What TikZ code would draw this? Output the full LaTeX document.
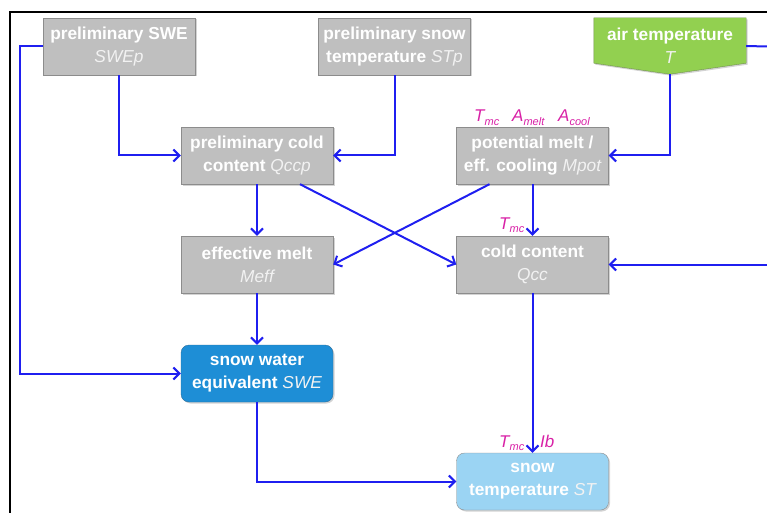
\documentclass[tikz,border=0pt]{standalone}
\usepackage{fontspec}
\setmainfont{Liberation Sans}
\usepackage{xcolor}
\usetikzlibrary{arrows,arrows.meta,calc,positioning,shadows,backgrounds}
\definecolor{boxgrau}{HTML}{BFBFBF}
\definecolor{randgrau}{HTML}{8C8C8C}
\definecolor{pfeilblau}{HTML}{1F1FF0}
\definecolor{luftgruen}{HTML}{92D050}
\definecolor{luftrand}{HTML}{71924E}
\definecolor{sweblau}{HTML}{1E8ED6}
\definecolor{swerand}{HTML}{2C6F9C}
\definecolor{sthell}{HTML}{9BD4F3}
\definecolor{parammag}{HTML}{D820A6}
\definecolor{kursivgrau}{HTML}{F2F2F2}
% kursiver Variablenname in den Kaesten
\newcommand{\kursiv}[1]{{\mdseries\itshape\color{kursivgrau}#1}}
% Parameter mit Index
\newcommand{\param}[2]{#1\raisebox{-3.5pt}{\fontsize{11}{11}\selectfont #2}}
\tikzset{
  schatten/.style={drop shadow={opacity=0.35,shadow xshift=1.5pt,shadow yshift=-1.5pt}},
  kastentext/.style={minimum width=152pt,minimum height=57pt,text=white,align=center,
    inner sep=2pt,font=\bfseries\fontsize{17.3}{23}\selectfont},
  kasten/.style={kastentext,draw=randgrau,fill=boxgrau,schatten},
  rundkasten/.style={kasten,rounded corners=8pt},
  pfeil/.style={draw=pfeilblau,line width=2pt,->,>={Straight Barb[length=6pt,width=12pt]}},
  parlabel/.style={text=parammag,inner sep=0pt,anchor=base west,font=\itshape\fontsize{17}{17}\selectfont},
}
\begin{document}
\begin{tikzpicture}[x=1pt,y=-1pt]
\useasboundingbox (0,0) rectangle (767,513);
%Rahmen (nur oben und links sichtbar)
\draw[black,line width=1.2pt] (10,513) -- (10,12) -- (767,12);
%Eingaenge
\node[kasten] (swep) at (119,46.5) {preliminary SWE\\\kursiv{SWEp}};
\node[kasten] (stp) at (394.5,46.5) {preliminary snow\\temperature \kursiv{STp}};
\node[kastentext,minimum height=56pt] (air) at (670,46) {air temperature\\\kursiv{T}};
\begin{scope}[on background layer]
\draw[draw=luftrand,fill=luftgruen,schatten] (air.north west) -- (air.north east) -- ($(air.south east)+(0,-11)$)
  -- (air.south) -- ($(air.south west)+(0,-11)$) -- cycle;
\end{scope}
%Zwischengroessen
\node[kasten] (qccp) at (257,155.5) {preliminary cold\\content \kursiv{Qccp}};
\node[kasten] (mpot) at (532.5,155.5) {potential melt /\\eff. cooling \kursiv{Mpot}};
\node[kasten] (meff) at (257,264.5) {effective melt\\\kursiv{Meff}};
\node[kasten] (qcc) at (532.5,264.5) {cold content\\\kursiv{Qcc}};
%Zustandsgroessen
\node[rundkasten,fill=sweblau,draw=swerand] (swe) at (257,373.5) {snow water\\equivalent \kursiv{SWE}};
\node[rundkasten,fill=sthell] (st) at (532.5,481.5) {snow\\temperature \kursiv{ST}};
%Parameter
\node[parlabel] (tmcA) at (474,122) {\param{T}{mc}};
\node[parlabel] (amelt) at (512,122) {\param{A}{melt}};
\node[parlabel] (acool) at (558,122) {\param{A}{cool}};
\node[parlabel] (tmcB) at (499,229) {\param{T}{mc}};
\node[parlabel] (tmcC) at (499,447) {\param{T}{mc}};
\node[parlabel] (ib) at (540,447) {Ib};
%Verbindungen
\coordinate (linksEck) at (20,46.5);
\coordinate (rechtsOben) at (767,46.5);
\coordinate (rechtsQcc) at (767,264.5);
\draw[pfeil] (swep.south) |- (qccp.west);
\draw[pfeil] (stp.south) |- (qccp.east);
\draw[pfeil] (air.south) |- (mpot.east);
\draw[pfeil,-] (air.east) -- (rechtsOben);
\draw[pfeil] (qccp.south) -- (meff.north);
\draw[pfeil] ([xshift=43pt]qccp.south) -- (qcc.west);
\draw[pfeil] ([xshift=-43pt]mpot.south) -- (meff.east);
\draw[pfeil] (mpot.south) -- (qcc.north);
\draw[pfeil] (rechtsQcc) -- (qcc.east);
\draw[pfeil] (meff.south) -- (swe.north);
\draw[pfeil] (swep.west) -- (linksEck) |- (swe.west);
\draw[pfeil] (qcc.south) -- (st.north);
\draw[pfeil] (swe.south) |- (st.west);
\end{tikzpicture}
\end{document}
